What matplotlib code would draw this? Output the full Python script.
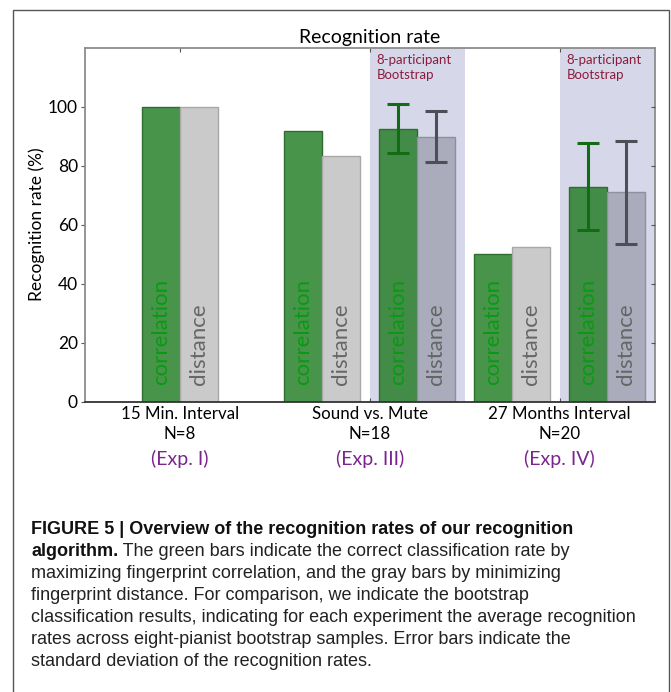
import matplotlib
matplotlib.use("Agg")
import matplotlib.pyplot as plt
from matplotlib.patches import Rectangle
import matplotlib.transforms as mtransforms

# ---------------- data ----------------
groups = ["15 Min. Interval", "Sound vs. Mute", "27 Months Interval"]
n_labels = ["N=8", "N=18", "N=20"]
exp_labels = ["(Exp. I)", "(Exp. III)", "(Exp. IV)"]
corr_rate = [100.0, 91.7, 50.0]
dist_rate = [100.0, 83.3, 52.4]
boot_corr = [92.6, 73.0]
boot_corr_sd = [8.3, 14.6]
boot_dist = [89.9, 71.0]
boot_dist_sd = [8.7, 17.6]
yticks = [0, 20, 40, 60, 80, 100]
title = "Recognition rate"
ylabel = "Recognition rate (%)"
boot_note = "8-participant\nBootstrap"
caption_bold1 = "FIGURE 5 | Overview of the recognition rates of our recognition"
caption_bold2 = "algorithm."
caption_rest = [
    " The green bars indicate the correct classification rate by",
    "maximizing fingerprint correlation, and the gray bars by minimizing",
    "fingerprint distance. For comparison, we indicate the bootstrap",
    "classification results, indicating for each experiment the average recognition",
    "rates across eight-pianist bootstrap samples. Error bars indicate the",
    "standard deviation of the recognition rates.",
]

# ---------------- layout ----------------
W, H = 671, 692
fig = plt.figure(figsize=(W / 100, H / 100), dpi=100)
FONT = ["Lato", "DejaVu Sans"]
CAPFONT = ["Liberation Sans", "DejaVu Sans"]

def fy(py):
    return 1 - py / H

def fx(px):
    return px / W

# outer frame
fig.add_artist(Rectangle((fx(13), fy(H + 5)), fx(669) - fx(13), fy(10) - fy(H + 5),
                         transform=fig.transFigure, fill=False, edgecolor="#555555", lw=1.0))

ax = fig.add_axes([fx(84.7), fy(401.7), fx(654.7) - fx(84.7), fy(48) - fy(401.7)])
ax.set_xlim(0, 6)
ax.set_ylim(0, 120)

group_pos = [1.0, 2.5, 4.5]
boot_pos = [3.5, 5.5]
bw = 0.4

shade = "#d6d8ea"
for b in boot_pos:
    ax.axvspan(b - 0.5, b + 0.5, color=shade, lw=0, zorder=0)

green = "#48944a"
green_edge = "#2f6d2f"
boot_green = "#428c48"
lgray = "#cacaca"
lgray_edge = "#a8a8a8"
bgray = "#aaabbb"
bgray_edge = "#8e8fa0"

gx_c = [p - bw / 2 for p in group_pos]
gx_d = [p + bw / 2 for p in group_pos]
bx_c = [p - bw / 2 for p in boot_pos]
bx_d = [p + bw / 2 for p in boot_pos]

ax.bar(gx_c, corr_rate, width=bw, color=green, edgecolor=green_edge, lw=1, zorder=2)
ax.bar(gx_d, dist_rate, width=bw, color=lgray, edgecolor=lgray_edge, lw=1, zorder=2)
ax.bar(bx_c, boot_corr, width=bw, color=boot_green, edgecolor=green_edge, lw=1, zorder=2)
ax.bar(bx_d, boot_dist, width=bw, color=bgray, edgecolor=bgray_edge, lw=1, zorder=2)

ax.errorbar(bx_c, boot_corr, yerr=boot_corr_sd, fmt="none", ecolor="#136b13",
            elinewidth=2.2, capsize=8, capthick=2.2, zorder=3)
ax.errorbar(bx_d, boot_dist, yerr=boot_dist_sd, fmt="none", ecolor="#4d4e58",
            elinewidth=2.2, capsize=8, capthick=2.2, zorder=3)

for x in gx_c + bx_c:
    ax.text(x, 5.5, "correlation", rotation=90, ha="center", va="bottom",
            color="#0a9a12", fontsize=16, family=FONT, zorder=4)
for x in gx_d + bx_d:
    ax.text(x, 5.5, "distance", rotation=90, ha="center", va="bottom",
            color="#666666", fontsize=16, family=FONT, zorder=4)

for b in boot_pos:
    ax.text(b - 0.43, 117.8, boot_note, ha="left", va="top", color="#8a1c3c",
            fontsize=9.5, family=FONT, linespacing=1.3, zorder=4)

# spines & ticks
for s in ["left", "top", "right"]:
    ax.spines[s].set_color("#8c8c8c")
    ax.spines[s].set_linewidth(1.3)
ax.spines["bottom"].set_color("#333333")
ax.spines["bottom"].set_linewidth(1.3)
ax.set_yticks(yticks)
ax.set_yticklabels([str(v) for v in yticks], family=FONT, fontsize=12.5)
ax.tick_params(axis="y", direction="out", length=3, color="#555555", pad=2)
ax.set_xticks([1, 3, 5])
ax.set_xticklabels([])
ax.tick_params(axis="x", direction="in", length=3, top=True, color="#555555")
axr = ax.twinx()
axr.set_ylim(0, 120)
axr.set_yticks(yticks)
axr.set_yticklabels([])
axr.tick_params(axis="y", direction="in", length=3, color="#555555")
for s in axr.spines.values():
    s.set_visible(False)

fig.text(fx(37), fy(224), ylabel, rotation=90, ha="center", va="center",
         fontsize=12.5, family=FONT)
fig.text(fx(369.7), fy(37), title, ha="center", va="center", fontsize=14, family=FONT)

trans = mtransforms.blended_transform_factory(ax.transData, fig.transFigure)
for i, p in enumerate([1, 3, 5]):
    ax.text(p, fy(414), groups[i], transform=trans, ha="center", va="center",
            fontsize=12.2, family=FONT)
    ax.text(p, fy(434), n_labels[i], transform=trans, ha="center", va="center",
            fontsize=12.2, family=FONT)
    ax.text(p, fy(459), exp_labels[i], transform=trans, ha="center", va="center",
            fontsize=14, family=FONT, color="#7b2490")

# caption
x0 = fx(31)
y1 = 529
dy = 22
fig.text(x0, fy(y1), caption_bold1, ha="left", va="center", fontsize=13,
         family=CAPFONT, weight="bold", color="#111111")
tb = fig.text(x0, fy(y1 + dy), caption_bold2, ha="left", va="center", fontsize=13,
              family=CAPFONT, weight="bold", color="#111111")
fig.canvas.draw()
bb = tb.get_window_extent()
fig.text(bb.x1 / fig.bbox.width, fy(y1 + dy), caption_rest[0], ha="left", va="center",
         fontsize=13, family=CAPFONT, color="#222222")
for k, line in enumerate(caption_rest[1:]):
    fig.text(x0, fy(y1 + dy * (k + 2)), line, ha="left", va="center", fontsize=13,
             family=CAPFONT, color="#222222")

fig.savefig("out.png", dpi=100)
